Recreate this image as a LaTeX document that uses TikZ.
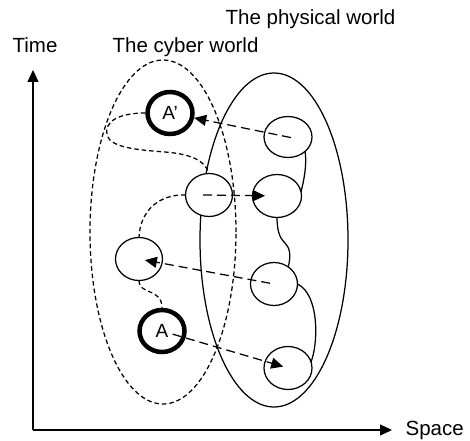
\documentclass[tikz,border=0pt]{standalone}
\usepackage{fontspec}
\setmainfont{Liberation Sans}
\usetikzlibrary{shapes.geometric,arrows.meta}
\begin{document}
\begin{tikzpicture}[x=1pt,y=1pt,
  line width=1.25pt,
  arrowhead/.style={-{Triangle[length=12pt,width=11pt]}},
  lbl/.style={anchor=base west, inner sep=0, font=\fontsize{20.5}{24}\selectfont},
  world/.style={ellipse, draw, inner sep=0, outer sep=0},
  blob/.style={ellipse, draw, fill=white, inner sep=0, outer sep=0, line width=1.25pt},
  keyblob/.style={blob, line width=4.5pt, outer sep=2.25pt, font=\fontsize{19}{22}\selectfont},
  xlink/.style={dash pattern=on 9pt off 5pt, arrowhead},
  cybertrace/.style={dash pattern=on 4.5pt off 3pt},
  ]
\useasboundingbox (0,0) rectangle (470,440);
% worlds
\node[world, cybertrace, minimum width=146pt, minimum height=344pt] (cyber) at (163,208) {};
\node[world, minimum width=148pt, minimum height=334pt] (phys) at (274,200) {};
% axes
\coordinate (O) at (33,10);
\coordinate (T) at (33,370);
\coordinate (S) at (392,10);
\draw[arrowhead] (O) -- (T);
\draw[arrowhead] (O) -- (S);
% labels
\node[lbl] (time) at (12,387) {Time};
\node[lbl] (space) at (405,5) {Space};
\node[lbl] (cyberlbl) at (112,387) {The cyber world};
\node[lbl] (physlbl) at (225,415) {The physical world};
% entities
\node[blob, minimum width=48pt, minimum height=41pt] (p1) at (288,303) {};
\node[blob, minimum width=49pt, minimum height=43pt] (p2) at (277,244) {};
\node[blob, minimum width=47pt, minimum height=43pt] (p3) at (274,156) {};
\node[blob, minimum width=48pt, minimum height=43pt] (p4) at (288,72) {};
\node[blob, minimum width=47pt, minimum height=43pt] (c1) at (209,245) {};
\node[blob, minimum width=47pt, minimum height=43pt] (cl) at (139,181) {};
\node[keyblob, minimum width=45pt, minimum height=42pt] (ap) at (170,327) {A’};
\node[keyblob, minimum width=45pt, minimum height=42pt] (a) at (162,109) {A};
% cyber traces
\draw[cybertrace] (ap.west) .. controls (118,327) and (104,318) .. (107,305)
  .. controls (110,292) and (140,290) .. (165,288)
  .. controls (190,286) and (205,280) .. (c1.north);
\draw[cybertrace] (c1.west) .. controls (160,246) and (140,230) .. (cl.north);
\draw[cybertrace] (cl.south) .. controls (139,145) and (162,152) .. (a.north);
% physical traces
\draw (p1.-40) .. controls (307,275) and (304,260) .. (p2.10);
\draw (p2.south) .. controls (277,205) and (282,200) .. (285,197)
  .. controls (290,192) and (291,185) .. (p3.50);
\draw (p3.east) .. controls (320,145) and (318,95) .. (p4.15);
% mappings
\draw[xlink, shorten <=-3pt] (p1.center) -- (ap);
\draw[xlink, shorten <=-6pt, shorten >=12pt] (c1.center) -- (p2.center);
\draw[xlink, shorten <=4pt, shorten >=6pt] (p3.center) -- (cl.center);
\draw[xlink, shorten <=11pt, shorten >=5pt] (a.center) -- (p4.center);
\end{tikzpicture}
\end{document}
